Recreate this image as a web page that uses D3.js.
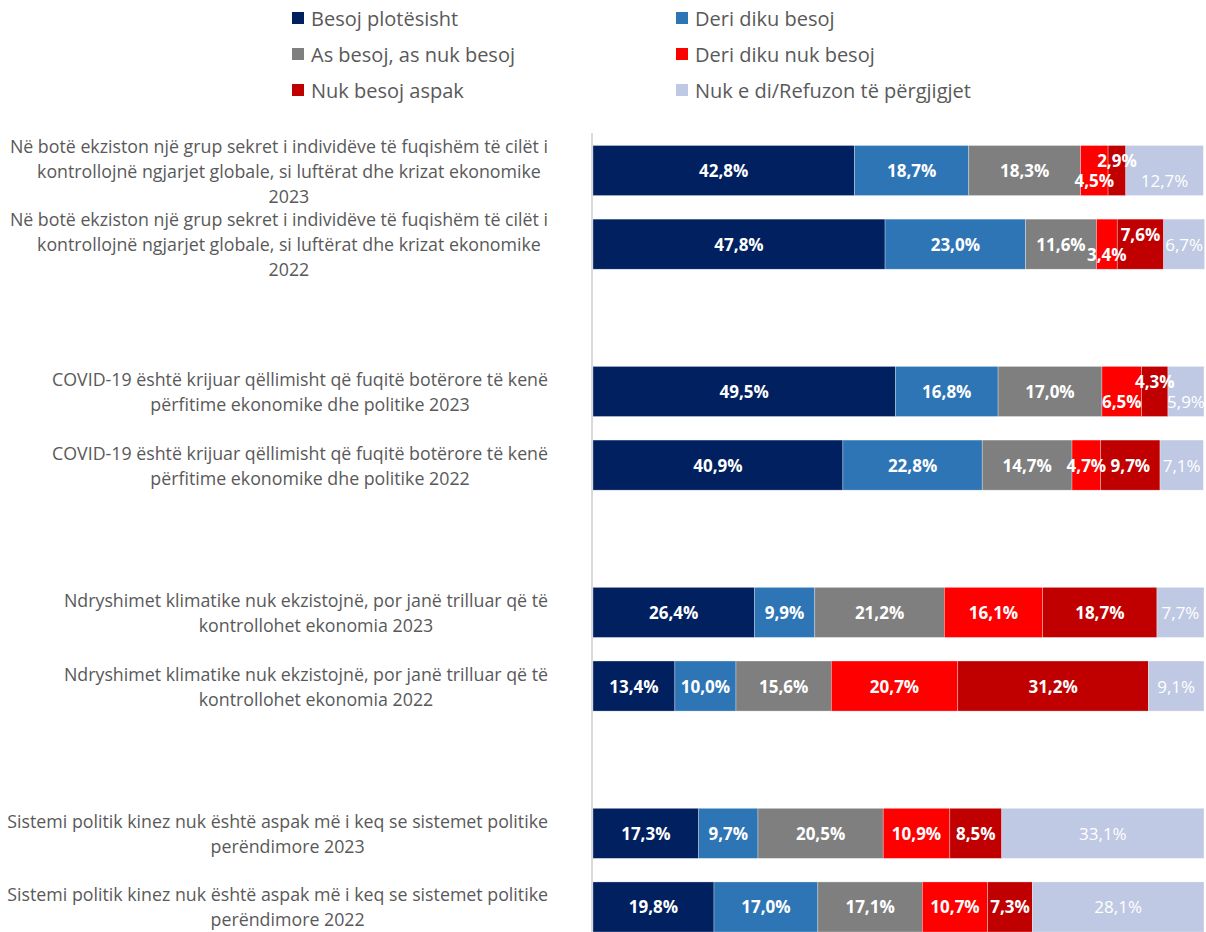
<!DOCTYPE html>
<html>
<head>
<meta charset="utf-8">
<script src="https://cdn.jsdelivr.net/npm/d3@7"></script>
<style>
  body { margin: 0; background: #fff; }
  svg { display: block; font-family: "Open Sans", Roboto, sans-serif; }
</style>
</head>
<body>
<script>
// categories (line breaks as in the original labels)
const categories = [
  "Në botë ekziston një grup sekret i individëve të fuqishëm të cilët i\nkontrollojnë ngjarjet globale, si luftërat dhe krizat ekonomike\n2023",
  "Në botë ekziston një grup sekret i individëve të fuqishëm të cilët i\nkontrollojnë ngjarjet globale, si luftërat dhe krizat ekonomike\n2022",
  "COVID-19 është krijuar qëllimisht që fuqitë botërore të kenë\npërfitime ekonomike dhe politike 2023",
  "COVID-19 është krijuar qëllimisht që fuqitë botërore të kenë\npërfitime ekonomike dhe politike 2022",
  "Ndryshimet klimatike nuk ekzistojnë, por janë trilluar që të\nkontrollohet ekonomia 2023",
  "Ndryshimet klimatike nuk ekzistojnë, por janë trilluar që të\nkontrollohet ekonomia 2022",
  "Sistemi politik kinez nuk është aspak më i keq se sistemet politike\nperëndimore 2023",
  "Sistemi politik kinez nuk është aspak më i keq se sistemet politike\nperëndimore 2022"
];

const seriesNames = [
  "Besoj plotësisht", "Deri diku besoj", "As besoj, as nuk besoj",
  "Deri diku nuk besoj", "Nuk besoj aspak", "Nuk e di/Refuzon të përgjigjet"
];
const seriesColors = ["#002060", "#2E75B6", "#7F7F7F", "#FF0000", "#C00000", "#BFC9E3"];

// values per series, one entry per category
const besojPlotesisht   = [42.8, 47.8, 49.5, 40.9, 26.4, 13.4, 17.3, 19.8];
const deriDikuBesoj     = [18.7, 23.0, 16.8, 22.8,  9.9, 10.0,  9.7, 17.0];
const asBesojAsNuk      = [18.3, 11.6, 17.0, 14.7, 21.2, 15.6, 20.5, 17.1];
const deriDikuNukBesoj  = [ 4.5,  3.4,  6.5,  4.7, 16.1, 20.7, 10.9, 10.7];
const nukBesojAspak     = [ 2.9,  7.6,  4.3,  9.7, 18.7, 31.2,  8.5,  7.3];
const nukEDi            = [12.7,  6.7,  5.9,  7.1,  7.7,  9.1, 33.1, 28.1];

const seriesValues = [besojPlotesisht, deriDikuBesoj, asBesojAsNuk, deriDikuNukBesoj, nukBesojAspak, nukEDi];

const width = 1206, height = 932;

const svg = d3.select("body").append("svg")
  .attr("width", width).attr("height", height);

// band domain with empty slots between topic pairs
const slots = [];
categories.forEach((c, i) => {
  slots.push("c" + i);
  if (i % 2 === 1 && i < categories.length - 1) slots.push("gap" + i);
});

const y = d3.scaleBand()
  .domain(slots)
  .range([133.7, 943.8])
  .paddingInner(0.32)
  .paddingOuter(0.16);

const x = d3.scaleLinear().domain([0, 100]).range([593, 1204]);

// stacked table
const rows = categories.map((c, i) => {
  const r = { key: "c" + i, label: c };
  seriesNames.forEach((s, j) => r[s] = seriesValues[j][i]);
  return r;
});
const stacked = d3.stack().keys(seriesNames)(rows);

// bars
svg.append("g").selectAll("g")
  .data(stacked)
  .join("g")
  .attr("fill", (d, i) => seriesColors[i])
  .selectAll("rect")
  .data(d => d)
  .join("rect")
  .attr("x", d => x(d[0]))
  .attr("y", d => y(d.data.key))
  .attr("width", d => x(d[1]) - x(d[0]))
  .attr("height", y.bandwidth())
  .attr("stroke", "rgba(255,255,255,0.5)")
  .attr("stroke-width", 0.6);

// vertical axis line
svg.append("line")
  .attr("x1", 592).attr("x2", 592)
  .attr("y1", 133).attr("y2", height)
  .attr("stroke", "#D9D9D9").attr("stroke-width", 2);

// value labels, nudged up/down where neighbours collide
const fmt = v => v.toFixed(1).replace(".", ",") + "%";
const labelG = svg.append("g");
rows.forEach((r, i) => {
  const cy = y(r.key) + y.bandwidth() / 2;
  const items = stacked.map((s, j) => {
    const d = s[i];
    const cx = (x(d[0]) + x(d[1])) / 2;
    const t = labelG.append("text")
      .attr("text-anchor", "middle")
      .attr("dominant-baseline", "central")
      .attr("x", cx)
      .attr("y", cy)
      .attr("fill", "#fff")
      .attr("font-size", 17)
      .attr("font-weight", j === 5 ? 400 : 700)
      .text(fmt(seriesValues[j][i]));
    const w = t.node().getComputedTextLength();
    const segW = x(d[1]) - x(d[0]);
    return { t, x0: cx - w / 2, x1: cx + w / 2, overflow: w > segW, shift: 0 };
  });
  for (let k = 1; k < items.length; k++) {
    const prev = items[k - 1], cur = items[k];
    if (prev.shift !== 0 && prev.overflow) cur.shift = -prev.shift;
    else if (cur.x0 < prev.x1) {
      if (prev.shift === 0) { prev.shift = 10; cur.shift = -10; }
      else cur.shift = -prev.shift;
    }
  }
  items.forEach(it => it.t.attr("y", cy + it.shift));
});

// category labels
const catG = svg.append("g");
rows.forEach(r => {
  const lines = r.label.split("\n");
  const cy = y(r.key) + y.bandwidth() / 2;
  const lh = 25;
  const t = catG.append("text")
    .attr("text-anchor", "middle")
    .attr("fill", "#595959")
    .attr("font-size", 17.8);
  const spans = lines.map((l, k) => t.append("tspan")
    .attr("y", cy + (k - (lines.length - 1) / 2) * lh)
    .attr("dominant-baseline", "central")
    .text(l));
  const maxW = d3.max(spans, s => s.node().getComputedTextLength());
  const c = 548 - maxW / 2;
  spans.forEach((s, k) => s.attr("x", k === 0 ? c : c + 10));
});

// legend
const legend = svg.append("g");
seriesNames.forEach((s, i) => {
  const col = i % 2, row = Math.floor(i / 2);
  const lx = col === 0 ? 292 : 676;
  const ly = 18 + row * 36;
  legend.append("rect")
    .attr("x", lx).attr("y", ly - 6)
    .attr("width", 12).attr("height", 12)
    .attr("fill", seriesColors[i]);
  legend.append("text")
    .attr("x", lx + 19).attr("y", ly)
    .attr("dominant-baseline", "central")
    .attr("font-size", 20)
    .attr("fill", "#595959")
    .text(s);
});
</script>
</body>
</html>
